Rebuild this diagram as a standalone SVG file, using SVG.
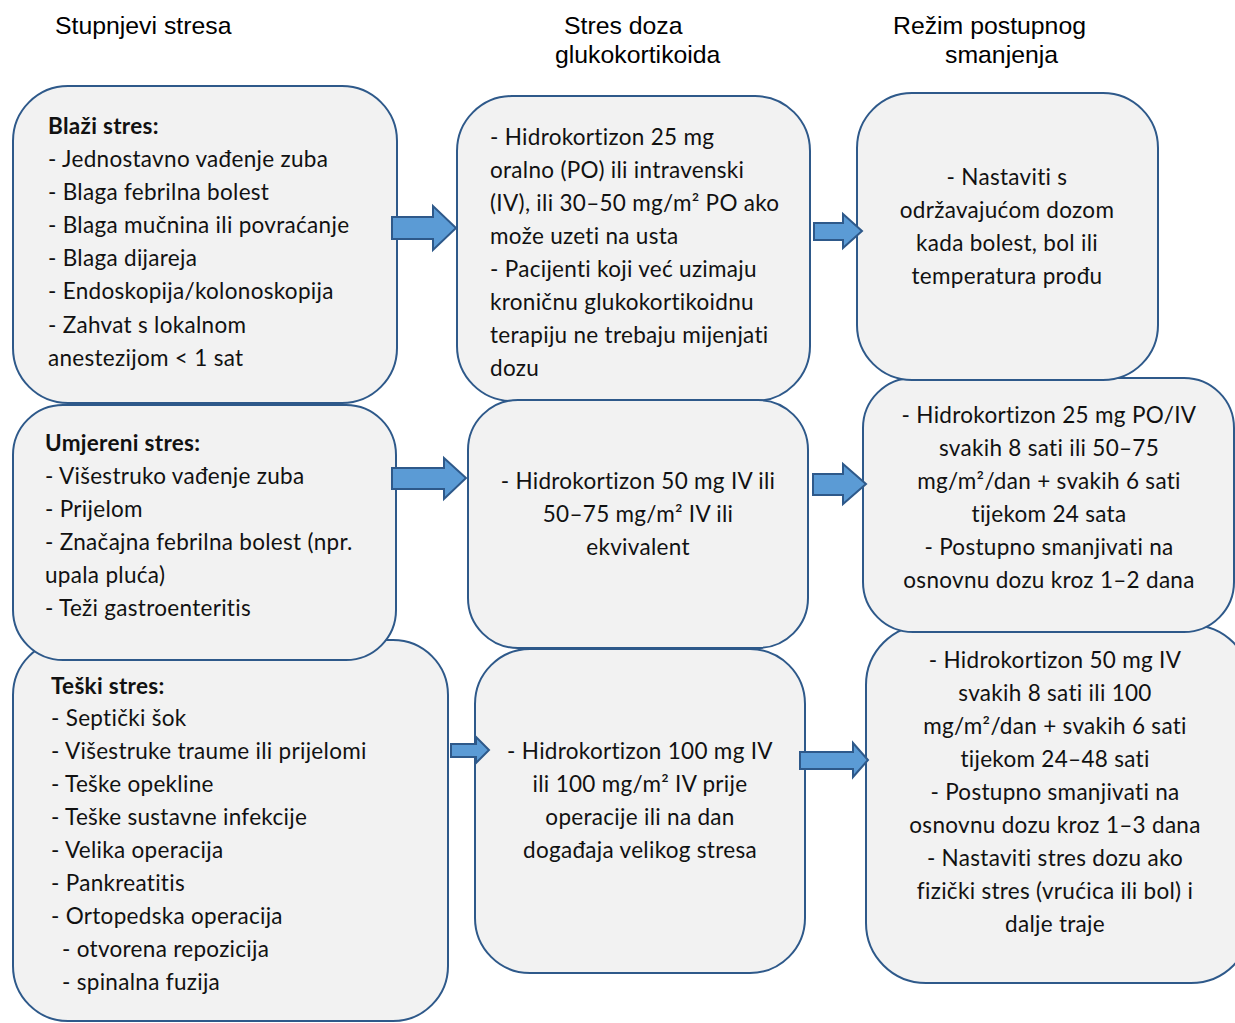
<svg xmlns="http://www.w3.org/2000/svg" width="1235" height="1023" viewBox="0 0 1235 1023">
<style>
.box{fill:#f2f2f2;stroke:#2e598a;stroke-width:2}
.arr{fill:#5b9bd5;stroke:#2e598a;stroke-width:2;stroke-linejoin:miter}
.h{font-family:"Liberation Sans",Arial,sans-serif;font-size:24.8px;fill:#000}
.t{font-family:Lato,"Open Sans",sans-serif;font-size:22.5px;letter-spacing:0.3px;fill:#111}
.b{font-weight:bold}
.c{text-anchor:middle}
</style>
<rect width="1235" height="1023" fill="#fff"/>
<g id="headers">
<text class="h" x="55" y="34">Stupnjevi stresa</text>
<text class="h" x="564" y="34">Stres doza</text>
<text class="h" x="555" y="63">glukokortikoida</text>
<text class="h" x="893" y="34">Režim postupnog</text>
<text class="h" x="945" y="63">smanjenja</text>
</g>
<g id="col1-severe">
<rect class="box" x="13" y="640" width="435" height="381" rx="55"/>
<text class="t"><tspan class="b" x="51" y="694">Teški stres:</tspan><tspan x="51" y="726">- Septički šok</tspan><tspan x="51" y="759">- Višestruke traume ili prijelomi</tspan><tspan x="51" y="792">- Teške opekline</tspan><tspan x="51" y="825">- Teške sustavne infekcije</tspan><tspan x="51" y="858">- Velika operacija</tspan><tspan x="51" y="891">- Pankreatitis</tspan><tspan x="51" y="924">- Ortopedska operacija</tspan><tspan x="62" y="957">- otvorena repozicija</tspan><tspan x="62" y="990">- spinalna fuzija</tspan></text>
</g>
<g id="col1-moderate">
<rect class="box" x="13" y="405" width="383" height="255" rx="50"/>
<text class="t"><tspan class="b" x="45" y="451">Umjereni stres:</tspan><tspan x="45" y="484">- Višestruko vađenje zuba</tspan><tspan x="45" y="517">- Prijelom</tspan><tspan x="45" y="550">- Značajna febrilna bolest (npr.</tspan><tspan x="45" y="583">upala pluća)</tspan><tspan x="45" y="616">- Teži gastroenteritis</tspan></text>
</g>
<g id="col1-mild">
<rect class="box" x="13" y="86" width="384" height="317" rx="55"/>
<text class="t"><tspan class="b" x="48" y="134">Blaži stres:</tspan><tspan x="48" y="167">- Jednostavno vađenje zuba</tspan><tspan x="48" y="200">- Blaga febrilna bolest</tspan><tspan x="48" y="233">- Blaga mučnina ili povraćanje</tspan><tspan x="48" y="266">- Blaga dijareja</tspan><tspan x="48" y="299">- Endoskopija/kolonoskopija</tspan><tspan x="48" y="333">- Zahvat s lokalnom</tspan><tspan x="48" y="366">anestezijom &lt; 1 sat</tspan></text>
</g>
<g id="col2-mild">
<rect class="box" x="457" y="96" width="353" height="305" rx="55"/>
<text class="t"><tspan x="490" y="145">- Hidrokortizon 25 mg</tspan><tspan x="490" y="178">oralno (PO) ili intravenski</tspan><tspan x="490" y="211">(IV), ili 30–50 mg/m² PO ako</tspan><tspan x="490" y="244">može uzeti na usta</tspan><tspan x="490" y="277">- Pacijenti koji već uzimaju</tspan><tspan x="490" y="310">kroničnu glukokortikoidnu</tspan><tspan x="490" y="343">terapiju ne trebaju mijenjati</tspan><tspan x="490" y="376">dozu</tspan></text>
</g>
<g id="col2-moderate">
<rect class="box" x="468" y="400" width="340" height="248" rx="50"/>
<text class="t c"><tspan x="638" y="489">- Hidrokortizon 50 mg IV ili</tspan><tspan x="638" y="522">50–75 mg/m² IV ili</tspan><tspan x="638" y="555">ekvivalent</tspan></text>
</g>
<g id="col2-severe">
<rect class="box" x="475" y="649" width="330" height="324" rx="55"/>
<text class="t c"><tspan x="640" y="759">- Hidrokortizon 100 mg IV</tspan><tspan x="640" y="792">ili 100 mg/m² IV prije</tspan><tspan x="640" y="825">operacije ili na dan</tspan><tspan x="640" y="858">događaja velikog stresa</tspan></text>
</g>
<g id="col3-severe">
<rect class="box" x="866" y="625" width="385" height="358" rx="60"/>
<text class="t c"><tspan x="1055" y="668">- Hidrokortizon 50 mg IV</tspan><tspan x="1055" y="701">svakih 8 sati ili 100</tspan><tspan x="1055" y="734">mg/m²/dan + svakih 6 sati</tspan><tspan x="1055" y="767">tijekom 24–48 sati</tspan><tspan x="1055" y="800">- Postupno smanjivati na</tspan><tspan x="1055" y="833">osnovnu dozu kroz 1–3 dana</tspan><tspan x="1055" y="866">- Nastaviti stres dozu ako</tspan><tspan x="1055" y="899">fizički stres (vrućica ili bol) i</tspan><tspan x="1055" y="932">dalje traje</tspan></text>
</g>
<g id="col3-moderate">
<rect class="box" x="863" y="378" width="371" height="254" rx="50"/>
<text class="t c"><tspan x="1049" y="423">- Hidrokortizon 25 mg PO/IV</tspan><tspan x="1049" y="456">svakih 8 sati ili 50–75</tspan><tspan x="1049" y="489">mg/m²/dan + svakih 6 sati</tspan><tspan x="1049" y="522">tijekom 24 sata</tspan><tspan x="1049" y="555">- Postupno smanjivati na</tspan><tspan x="1049" y="588">osnovnu dozu kroz 1–2 dana</tspan></text>
</g>
<g id="col3-mild">
<rect class="box" x="857" y="93" width="301" height="287" rx="55"/>
<text class="t c"><tspan x="1007" y="185">- Nastaviti s</tspan><tspan x="1007" y="218">održavajućom dozom</tspan><tspan x="1007" y="251">kada bolest, bol ili</tspan><tspan x="1007" y="284">temperatura prođu</tspan></text>
</g>
<g id="connectors">
<polygon class="arr" points="392,217 433,217 433,206 456,228 433,250 433,239 392,239"/>
<polygon class="arr" points="814,223 843,223 843,214 862,231 843,248 843,240 814,240"/>
<polygon class="arr" points="392,468 444,468 444,458 466,478 444,499 444,489 392,489"/>
<polygon class="arr" points="813,474 843,474 843,464 866,484 843,504 843,495 813,495"/>
<polygon class="arr" points="451,744 476,744 476,737 489,750 476,763 476,757 451,757"/>
<polygon class="arr" points="800,752 853,752 853,743 868,760 853,777 853,769 800,769"/>
</g>
</svg>
